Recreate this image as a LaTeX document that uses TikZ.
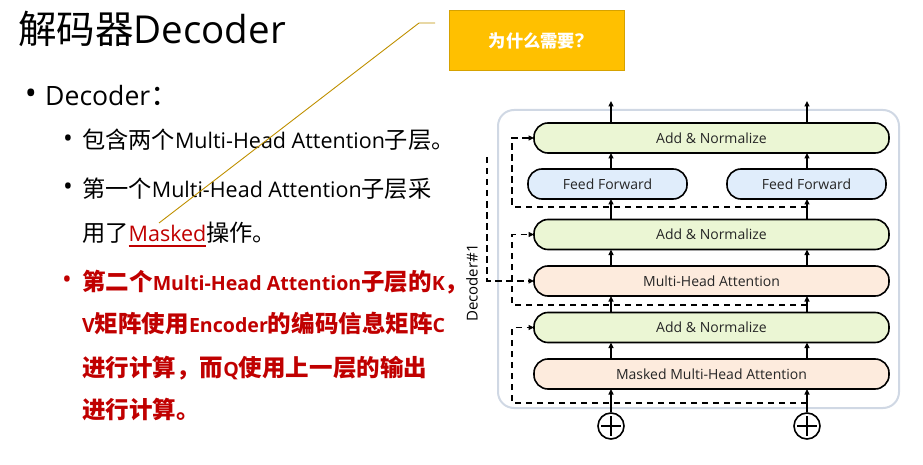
\documentclass[tikz,border=0pt]{standalone}
\usepackage{fontspec}
\setmainfont{Open Sans}
\newfontfamily\cjk{Noto Sans CJK SC}[Scale=1.08]
\newfontfamily\cjkhot{Noto Sans CJK SC}[Scale=1.2]
\newfontfamily\cjkbig{Noto Sans CJK SC}
\usepackage{xcolor}
\usetikzlibrary{positioning,arrows.meta,calc}

\definecolor{annfill}{RGB}{235,246,212}
\definecolor{fffill}{RGB}{224,237,251}
\definecolor{attfill}{RGB}{253,235,221}
\definecolor{framegray}{RGB}{208,216,228}
\definecolor{slidered}{RGB}{192,0,0}
\definecolor{askfill}{RGB}{255,192,0}
\definecolor{askedge}{RGB}{214,162,0}
\definecolor{callline}{RGB}{191,144,0}

\newcommand{\zh}[1]{{\cjk #1}}
\newcommand{\zhb}[1]{{\cjkhot #1}}
\newsavebox{\ulbox}
\newcommand{\redul}[1]{\sbox{\ulbox}{#1}\rlap{\rule[-6pt]{\wd\ulbox}{1.8pt}}\usebox{\ulbox}}

\begin{document}
\begin{tikzpicture}[x=1pt, y=-1pt,
  txt/.style={anchor=base west, inner sep=0pt, font=\fontsize{21.5}{26}\selectfont},
  hot/.style={txt, text=slidered, font=\fontsize{19.6}{26}\selectfont\bfseries},
  dot/.style={inner sep=0pt, font=\fontsize{26}{26}\selectfont},
  layer/.style={draw, line width=1.6pt, rounded corners=14pt, minimum height=30pt,
                minimum width=355pt, inner sep=0pt, outer sep=0pt, text=black!85,
                font=\fontsize{14}{16}\selectfont},
  addn/.style={layer, fill=annfill},
  att/.style={layer, fill=attfill},
  ffn/.style={layer, fill=fffill, minimum width=159pt},
  plus/.style={circle, draw, line width=1.6pt, minimum size=26pt, inner sep=0pt},
  arr/.style={-{Triangle[length=5.5pt,width=5pt]}, line width=1.5pt},
  resid/.style={arr, dash pattern=on 6.5pt off 4.5pt},
  node distance=16.5pt]

\useasboundingbox (0,0) rectangle (923,465);

% Left: the slide text.
\node[txt, font=\fontsize{38.5}{40}\selectfont] (title) at (18,44) {{\cjkbig 解码器}Decoder};
\node[dot, font=\fontsize{32}{32}\selectfont] (b0) at (31,97) {•};
\node[txt, font=\fontsize{26.6}{30}\selectfont] (head) at (45,106) {Decoder\zh{：}};
\node[dot] (b1) at (68,141) {•};
\node[txt] (l1) at (82,149) {\zh{包含两个}Multi-Head Attention\zh{子层。}};
\node[dot] (b2) at (68,189) {•};
\node[txt] (l2) at (82,197) {\zh{第一个}Multi-Head Attention\zh{子层采}};
\node[txt] (l3) at (82,241) {\zh{用了}\textcolor{slidered}{\redul{Masked}}\zh{操作。}};
\node[dot, text=slidered] (b3) at (67,282) {•};
\node[hot] (r1l) at (82,290) {\zhb{第二个}Multi-Head Attention\zhb{子层的}K\zhb{，}};
\node[hot] (r2l) at (82,332) {V\zhb{矩阵使用}Encoder\zhb{的编码信息矩阵}C};
\node[hot] (r3l) at (82,376) {\zhb{进行计算，而}Q\zhb{使用上一层的输出}};
\node[hot] (r4l) at (82,418) {\zhb{进行计算。}};

% Callout: why masked?
\node[fill=askfill, draw=askedge, line width=1pt, minimum width=175pt, minimum height=60pt,
      text=white, font=\fontsize{16}{18}\selectfont\bfseries] (ask) at (536.5,41)
      {\zh{为什么需要}{\fontsize{19}{19}\selectfont ?}};
\coordinate (ca) at (159,223);
\coordinate (cb) at (419,23);
\coordinate (cc) at (435,23);
\draw[callline, line width=0.9pt] (ca) -- (cb) -- (cc);

% Right: one decoder block.
\draw[framegray, line width=2pt, rounded corners=16pt] (498,110) rectangle (899,408);
\node[att] (mmha) at (711.5,374) {Masked Multi-Head Attention};
\node[addn, above=of mmha] (an3) {Add \& Normalize};
\node[att, above=of an3] (mha) {Multi-Head Attention};
\node[addn, above=of mha] (an2) {Add \& Normalize};
\node[ffn] (ffl) at (607.5,184) {Feed Forward};
\node[ffn] (ffr) at (806.5,184) {Feed Forward};
\node[addn] (an1) at (711.5,138) {Add \& Normalize};
\node[plus] (pl) at (611,426) {};
\node[plus] (pr) at (807,426) {};
\node[rotate=90, inner sep=0pt, font=\fontsize{15}{15}\selectfont] (declbl) at (472,283) {Decoder\#1};
\coordinate (outl) at (611,101);
\coordinate (outr) at (807,101);

\foreach \p in {pl,pr} {
  \draw[line width=1.6pt] ([yshift=-4pt]\p.north) -- ([yshift=4pt]\p.south);
  \draw[line width=1.6pt] ([xshift=4pt]\p.west) -- ([xshift=-4pt]\p.east);
  \draw[arr] (\p) -- (\p |- mmha.south);
  \draw[arr] (\p |- mmha.north) -- (\p |- an3.south);
  \draw[arr] (\p |- an3.north) -- (\p |- mha.south);
  \draw[arr] (\p |- mha.north) -- (\p |- an2.south);
}
\foreach \p/\f in {pl/ffl, pr/ffr} {
  \draw[arr] (\p |- an2.north) -- (\p |- \f.south);
  \draw[arr] (\p |- \f.north) -- (\p |- an1.south);
}
\draw[arr] (pl |- an1.north) -- (outl);
\draw[arr] (pr |- an1.north) -- (outr);

% residual paths
\coordinate (res1) at (807,403);
\coordinate (res2) at (807,305);
\coordinate (res3) at (807,207);
\coordinate (rx) at (512,0);
\coordinate (enc) at (487,157);
\draw[resid] (res1) -- (res1 -| rx) |- (an3.west);
\draw[resid] (res2) -- (res2 -| rx) |- (an2.west);
\draw[resid] (res3) -- (res3 -| rx) |- (an1.west);
\draw[resid] (enc) |- (mha.west);
\end{tikzpicture}
\end{document}
